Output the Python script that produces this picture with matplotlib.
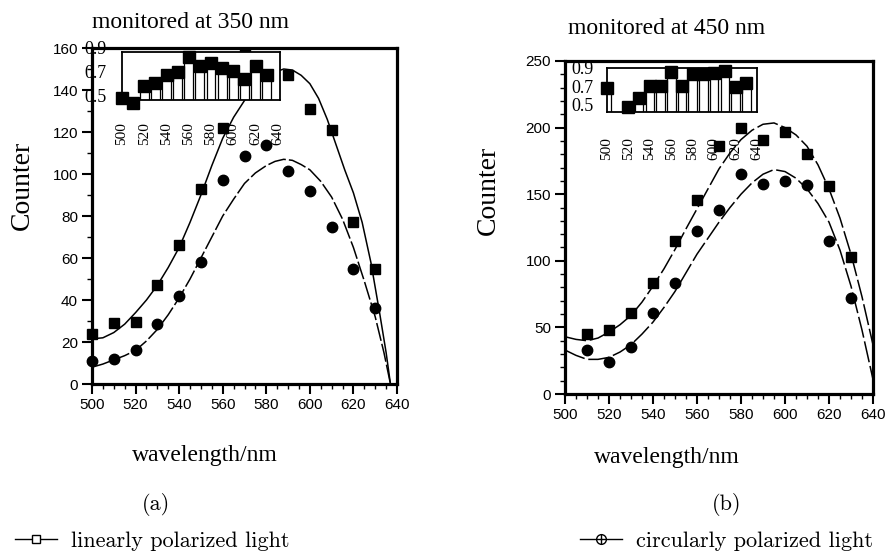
import matplotlib
matplotlib.use("Agg")
import matplotlib.pyplot as plt
from matplotlib.lines import Line2D
from matplotlib.ticker import MultipleLocator
from matplotlib.legend_handler import HandlerTuple

# ---- panel (a): monitored at 350 nm ----
a_sq_x = [500, 510, 520, 530, 540, 550, 560, 570, 590, 600, 610, 620, 630]
a_sq_y = [24, 29, 29.5, 47, 66, 93, 122, 157, 147, 131, 121, 77, 55]
a_ci_x = [500, 510, 520, 530, 540, 550, 560, 570, 580, 590, 600, 610, 620, 630]
a_ci_y = [11, 12, 16, 28.5, 42, 58, 97, 108.5, 114, 101.5, 92, 75, 55, 36]
# fitted curves
a_fit_lin_x = [500, 505, 510, 515, 520, 525, 530, 535, 540, 545, 550, 555, 560, 565, 570, 575,
               580, 584, 588, 592, 596, 600, 604, 608, 612, 616, 620, 624, 628, 632, 635, 637]
a_fit_lin_y = [21.5, 22, 24.5, 28.5, 34, 40, 47, 55.5, 65, 77, 90, 104, 117, 127, 135, 141.5,
               146, 148.5, 150, 149.5, 147, 143, 136, 126, 114, 102, 91, 77, 58, 34, 15, 0]
a_fit_cir_x = [500, 505, 510, 515, 520, 525, 530, 535, 540, 545, 550, 555, 560, 565, 570, 575,
               580, 584, 588, 592, 596, 600, 605, 610, 615, 620, 625, 630, 634, 637]
a_fit_cir_y = [8, 9.5, 11.5, 13.5, 16, 20.5, 26, 33, 41, 50, 60, 70, 80, 88, 95.5, 100.5,
               104, 106, 107, 106.5, 104.5, 102, 96.5, 89, 78.5, 65, 49, 32, 15, 0]
# inset of (a)
a_ins_x = [500, 510, 520, 530, 540, 550, 560, 570, 580, 590, 600, 610, 620, 630]
a_ins_y = [0.49, 0.45, 0.59, 0.62, 0.68, 0.71, 0.83, 0.76, 0.78, 0.74, 0.72, 0.65, 0.76, 0.68]

# ---- panel (b): monitored at 450 nm ----
b_sq_x = [510, 520, 530, 540, 550, 560, 570, 580, 590, 600, 610, 620, 630]
b_sq_y = [45, 48, 61, 83, 115, 146, 186, 200, 191, 197, 180, 156, 103]
b_ci_x = [510, 520, 530, 540, 550, 560, 570, 580, 590, 600, 610, 620, 630]
b_ci_y = [33, 24, 35, 61, 83, 122, 138, 165, 157.5, 160, 157, 115, 72]
b_fit_lin_x = [500, 505, 510, 515, 520, 525, 530, 535, 540, 545, 550, 555, 560, 565, 570, 575,
               580, 585, 590, 595, 600, 605, 610, 615, 620, 625, 630, 635, 640]
b_fit_lin_y = [43, 41, 40, 42, 46.5, 52, 59, 69, 81, 94, 108.5, 124, 139, 154, 169, 181,
               191, 198, 202.5, 203.5, 200, 194.5, 186, 172, 154, 132, 105, 73, 37]
b_fit_cir_x = [500, 505, 510, 515, 520, 525, 530, 535, 540, 545, 550, 555, 560, 565, 570, 575,
               580, 585, 590, 595, 600, 605, 610, 615, 620, 625, 630, 635, 640]
b_fit_cir_y = [33, 29, 26, 26, 27.5, 31.5, 37, 45, 54, 65, 77, 91, 105, 117, 129, 140,
               150, 158.5, 165, 168.5, 167, 162, 154, 143, 129, 108, 81, 48, 11]
# inset of (b)
b_ins_x = [500, 520, 530, 540, 550, 560, 570, 580, 590, 600, 610, 620, 630]
b_ins_y = [0.70, 0.50, 0.60, 0.73, 0.73, 0.88, 0.73, 0.86, 0.86, 0.87, 0.89, 0.71, 0.76]

x_ticks = [500, 520, 540, 560, 580, 600, 620, 640]
ins_yticks = [0.5, 0.7, 0.9]

SERIF = ["Liberation Serif", "DejaVu Serif"]
NUMF = ["Liberation Sans", "DejaVu Sans"]
CM = ["cmr10", "Liberation Serif"]

W, H = 888, 553


def px(x, y):
    return x / W, 1 - y / H


def setup_main(ax, ymax, ymajor, yminor):
    ax.set_xlim(500, 640)
    ax.set_ylim(0, ymax)
    ax.set_xticks(x_ticks)
    ax.xaxis.set_minor_locator(MultipleLocator(5))
    ax.yaxis.set_major_locator(MultipleLocator(ymajor))
    ax.yaxis.set_minor_locator(MultipleLocator(yminor))
    for s in ax.spines.values():
        s.set_linewidth(2.3)
    ax.tick_params(which="major", direction="out", length=7, width=1.5, pad=3)
    ax.tick_params(which="minor", direction="out", length=3.5, width=1.0)
    for lab in ax.get_xticklabels() + ax.get_yticklabels():
        lab.set_family(NUMF)
        lab.set_fontsize(11)


def draw_inset(rect, xs, ys, ylim, xlim, lab_x, xpad):
    ins = fig.add_axes(rect)
    ins.set_facecolor("white")
    ins.set_xlim(*xlim)
    ins.set_ylim(*ylim)
    ins.bar(xs, [v - ylim[0] for v in ys], bottom=ylim[0], width=8,
            facecolor="white", edgecolor="black", linewidth=0.9)
    ins.plot(xs, ys, "s", color="black", markersize=8.5, clip_on=False)
    for s in ins.spines.values():
        s.set_linewidth(1.3)
    ins.set_yticks([])
    ins.set_xticks(x_ticks)
    ins.set_xticklabels([str(t) for t in x_ticks], rotation=90,
                        family=SERIF, fontsize=11)
    ins.tick_params(axis="x", length=0, pad=xpad)
    for v in ins_yticks:
        ins.text(lab_x, v, f"{v:.1f}", transform=ins.get_yaxis_transform(),
                 ha="right", va="center", family=SERIF, fontsize=13,
                 clip_on=False)
    return ins


fig = plt.figure(figsize=(8.88, 5.53), dpi=100)

# panel (a)
ax_a = fig.add_axes([92 / W, 1 - 384 / H, 305 / W, 336 / H])
ax_a.plot(a_fit_lin_x, a_fit_lin_y, "-", color="black", lw=1.1)
ax_a.plot(a_fit_cir_x, a_fit_cir_y, color="black", lw=1.1, dashes=(12, 2))
ax_a.plot(a_sq_x, a_sq_y, "s", color="black", markersize=7.5, clip_on=False)
ax_a.plot(a_ci_x, a_ci_y, "o", color="black", markersize=7.5, clip_on=False)
setup_main(ax_a, 160, 20, 10)

# panel (b)
ax_b = fig.add_axes([565 / W, 1 - 394 / H, 308 / W, 333 / H])
ax_b.plot(b_fit_lin_x, b_fit_lin_y, color="black", lw=1.1, dashes=(14, 2.5))
ax_b.plot(b_fit_cir_x, b_fit_cir_y, color="black", lw=1.1, dashes=(14, 2.5))
ax_b.plot(b_sq_x, b_sq_y, "s", color="black", markersize=7.5, clip_on=False)
ax_b.plot(b_ci_x, b_ci_y, "o", color="black", markersize=7.5, clip_on=False)
setup_main(ax_b, 250, 50, 10)

# insets
draw_inset([122 / W, 1 - 100 / H, 158 / W, 48 / H], a_ins_x, a_ins_y,
           (0.475, 0.875), (500, 642), -0.1, 16)
draw_inset([607 / W, 1 - 112 / H, 150 / W, 44 / H], b_ins_x, b_ins_y,
           (0.445, 0.92), (500, 640), -0.09, 18)

# titles and axis labels
fig.text(*px(190, 23), "monitored at 350 nm", ha="center", va="center",
         family=SERIF, fontsize=17)
fig.text(*px(667, 29), "monitored at 450 nm", ha="center", va="center",
         family=SERIF, fontsize=17)
fig.text(*px(22, 185), "Counter", rotation=90, ha="center", va="center",
         family=SERIF, fontsize=20)
fig.text(*px(488, 190), "Counter", rotation=90, ha="center", va="center",
         family=SERIF, fontsize=20)
fig.text(*px(205, 455), "wavelength/nm", ha="center", va="center",
         family=SERIF, fontsize=17)
fig.text(*px(667, 458), "wavelength/nm", ha="center", va="center",
         family=SERIF, fontsize=17)
fig.text(*px(156, 505), "(a)", ha="center", va="center", family=CM, fontsize=16)
fig.text(*px(727, 505), "(b)", ha="center", va="center", family=CM, fontsize=16)

# bottom legends
h_lin = (Line2D([], [], color="black", lw=1.0),
         Line2D([], [], marker="s", ls="none", mfc="white", mec="black",
                mew=1.0, markersize=6))
h_cir = (Line2D([], [], color="black", lw=1.0),
         Line2D([], [], marker="o", ls="none", mfc="white", mec="black",
                mew=1.0, markersize=7),
         Line2D([], [], marker="+", ls="none", color="black", mew=1.0,
                markersize=7))
for handle, label, anchor in [(h_lin, "linearly polarized light", px(15, 541)),
                              (h_cir, "circularly polarized light", px(580, 541))]:
    fig.legend(handles=[handle], labels=[label], loc="center left",
               bbox_to_anchor=anchor, frameon=False,
               handler_map={tuple: HandlerTuple(ndivide=1)},
               prop={"family": CM, "size": 16}, handlelength=1.9,
               handletextpad=0.6, borderpad=0, borderaxespad=0)

fig.savefig("out.png", dpi=100)
